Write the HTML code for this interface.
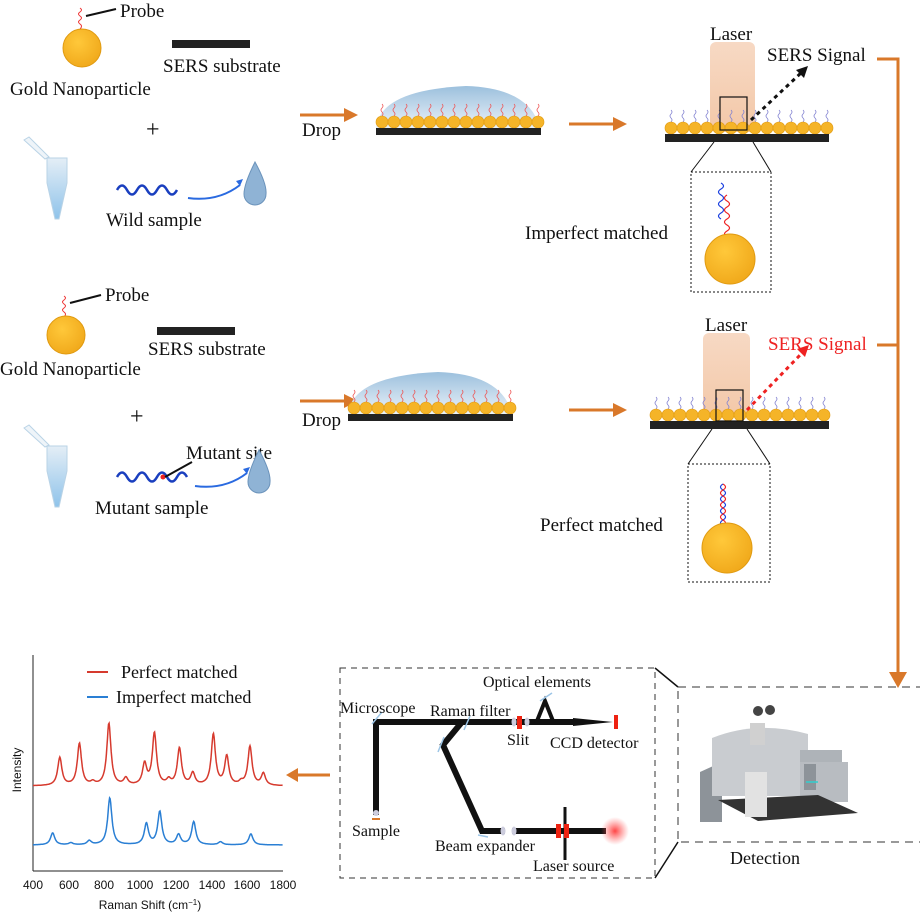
<!DOCTYPE html>
<html><head><meta charset="utf-8"><style>
html,body{margin:0;padding:0;background:#fff}
svg{display:block}
text{font-family:"Liberation Serif",serif;fill:#111}
.s{font-family:"Liberation Sans",sans-serif}
</style></head><body>
<svg width="920" height="914" viewBox="0 0 920 914" xmlns="http://www.w3.org/2000/svg">
<defs>
<radialGradient id="gold" cx="0.4" cy="0.35" r="0.7"><stop offset="0" stop-color="#ffc83a"/><stop offset="1" stop-color="#f0a81a"/></radialGradient>
<linearGradient id="laser" x1="0" y1="0" x2="0" y2="1"><stop offset="0" stop-color="#f7d9c4"/><stop offset="1" stop-color="#f3c8a8"/></linearGradient>
<linearGradient id="dome" x1="0" y1="0" x2="0" y2="1"><stop offset="0" stop-color="#9cc0dd"/><stop offset="1" stop-color="#eaf2f9"/></linearGradient>
<linearGradient id="tube" x1="0" y1="0" x2="0" y2="1"><stop offset="0" stop-color="#e4eef6"/><stop offset="1" stop-color="#8fc3ea"/></linearGradient>
<radialGradient id="glow"><stop offset="0" stop-color="#ff3030" stop-opacity="0.9"/><stop offset="1" stop-color="#ff6060" stop-opacity="0"/></radialGradient>
</defs>

<!-- ===== ROW 1 ===== -->
<path d="M80,8 q3,2 0,4 q-3,2 0,4 q3,2 0,4 q-3,2 0,4 q3,2 0,5" stroke="#e33" fill="none" stroke-width="1"/>
<line x1="86" y1="16" x2="116" y2="9" stroke="#111" stroke-width="2"/>
<text x="120" y="17" font-size="19">Probe</text>
<circle cx="82" cy="48" r="19" fill="url(#gold)" stroke="#e09a10"/>
<rect x="172" y="40" width="78" height="8" fill="#222"/>
<text x="163" y="72" font-size="19">SERS substrate</text>
<text x="10" y="95" font-size="19">Gold Nanoparticle</text>
<text x="146" y="137" font-size="24" font-family="Liberation Sans">+</text>
<g id="tube1">
<path d="M47,158 h20 v25 l-8,36 h-4 l-8,-36 z" fill="url(#tube)" stroke="#b9d3e6"/>
<path d="M24,140 l5,-3 l20,20 l-4,2 z" fill="#eef4f9" stroke="#b9d3e6"/>
</g>
<path d="M117,190 q5,-9 10,0 q5,9 10,0 q5,-9 10,0 q5,9 10,0 q5,-9 10,0 q5,9 10,0" stroke="#1a3fbf" stroke-width="2.5" fill="none"/>
<path d="M188,198 q30,4 52,-13" stroke="#2a6ae0" stroke-width="2" fill="none"/>
<path d="M236,181 l7,-2 l-3,7z" fill="#2a6ae0"/>
<path d="M255,162 q12,22 11,32 a11,11 0 0 1 -22,0 q0,-10 11,-32z" fill="#8fb3d5" stroke="#6b93bb"/>
<text x="106" y="226" font-size="19">Wild sample</text>
<line x1="300" y1="115" x2="346" y2="115" stroke="#d9782a" stroke-width="3"/><path d="M344,108 l14,7 l-14,7z" fill="#d9782a"/>
<text x="302" y="136" font-size="19">Drop</text>
<path d="M376,128 q4,-38 90,-42 q64,2 74,42z" fill="url(#dome)"/>
<g id="np1"></g>
<rect x="376" y="128" width="165" height="7" fill="#222"/>
<line x1="569" y1="124" x2="615" y2="124" stroke="#d9782a" stroke-width="3"/><path d="M613,117 l14,7 l-14,7z" fill="#d9782a"/>
<rect x="710" y="42" width="45" height="90" rx="6" fill="url(#laser)"/>
<text x="710" y="40" font-size="19">Laser</text>
<g id="np2"></g>
<rect x="665" y="134" width="164" height="8" fill="#222"/>
<rect x="720" y="97" width="27" height="33" fill="none" stroke="#111" stroke-width="1.2"/>
<line x1="751" y1="120" x2="802" y2="72" stroke="#111" stroke-width="3" stroke-dasharray="4,4"/>
<path d="M808,66 l-4,12 l-8,-8z" fill="#111"/>
<text x="767" y="61" font-size="19">SERS Signal</text>
<line x1="714" y1="142" x2="691" y2="172" stroke="#111"/><line x1="753" y1="142" x2="771" y2="172" stroke="#111"/>
<rect x="691" y="172" width="80" height="120" fill="none" stroke="#111" stroke-dasharray="2,2"/>
<path d="M721,183 q5,3 0,6 q-5,3 0,6 q5,3 0,6 q-5,3 0,6 q5,3 0,6 q-5,3 0,6" stroke="#1a3fdf" fill="none" stroke-width="1.2"/>
<path d="M727,195 q-5,3 0,6 q5,3 0,6 q-5,3 0,6 q5,3 0,6 q-5,3 0,6 q5,3 0,6 q-5,3 0,6" stroke="#e22" fill="none" stroke-width="1.2"/>
<circle cx="730" cy="259" r="25" fill="url(#gold)" stroke="#e09a10"/>
<text x="525" y="239" font-size="19">Imperfect matched</text>

<!-- orange bracket -->
<path d="M877,59 H898 V682" stroke="#d9782a" stroke-width="3" fill="none"/>
<line x1="877" y1="345" x2="898" y2="345" stroke="#d9782a" stroke-width="3"/>
<path d="M889,672 l9,16 l9,-16z" fill="#d9782a"/>

<!-- ===== ROW 2 ===== -->
<path d="M64,296 q3,2 0,4 q-3,2 0,4 q3,2 0,4 q-3,2 0,4 q3,2 0,5" stroke="#e33" fill="none" stroke-width="1"/>
<line x1="70" y1="303" x2="101" y2="295" stroke="#111" stroke-width="2"/>
<text x="105" y="301" font-size="19">Probe</text>
<circle cx="66" cy="335" r="19" fill="url(#gold)" stroke="#e09a10"/>
<rect x="157" y="327" width="78" height="8" fill="#222"/>
<text x="148" y="355" font-size="19">SERS substrate</text>
<text x="0" y="375" font-size="19">Gold Nanoparticle</text>
<text x="130" y="424" font-size="24" font-family="Liberation Sans">+</text>
<g transform="translate(0,288)">
<path d="M47,158 h20 v25 l-8,36 h-4 l-8,-36 z" fill="url(#tube)" stroke="#b9d3e6"/>
<path d="M24,140 l5,-3 l20,20 l-4,2 z" fill="#eef4f9" stroke="#b9d3e6"/>
</g>
<path d="M117,477 q5,-9 10,0 q5,9 10,0 q5,-9 10,0 q5,9 10,0 q5,-9 10,0 q5,9 10,0 q5,-9 10,0" stroke="#1a3fbf" stroke-width="2.5" fill="none"/>
<circle cx="163" cy="477" r="2.5" fill="#e22"/>
<line x1="165" y1="477" x2="192" y2="462" stroke="#111" stroke-width="2"/>
<text x="186" y="459" font-size="19">Mutant site</text>
<path d="M195,486 q30,4 52,-13" stroke="#2a6ae0" stroke-width="2" fill="none"/>
<path d="M243,469 l7,-2 l-3,7z" fill="#2a6ae0"/>
<path d="M259,450 q12,22 11,32 a11,11 0 0 1 -22,0 q0,-10 11,-32z" fill="#8fb3d5" stroke="#6b93bb"/>
<text x="95" y="514" font-size="19">Mutant sample</text>
<line x1="300" y1="401" x2="346" y2="401" stroke="#d9782a" stroke-width="3"/><path d="M344,394 l14,7 l-14,7z" fill="#d9782a"/>
<text x="302" y="426" font-size="19">Drop</text>
<path d="M348,414 q4,-38 90,-42 q64,2 74,42z" fill="url(#dome)"/>
<g id="np3"></g>
<rect x="348" y="414" width="165" height="7" fill="#222"/>
<line x1="569" y1="410" x2="615" y2="410" stroke="#d9782a" stroke-width="3"/><path d="M613,403 l14,7 l-14,7z" fill="#d9782a"/>
<rect x="703" y="333" width="47" height="84" rx="6" fill="url(#laser)"/>
<text x="705" y="331" font-size="19">Laser</text>
<g id="np4"></g>
<rect x="650" y="421" width="179" height="8" fill="#222"/>
<rect x="716" y="390" width="27" height="31" fill="none" stroke="#111" stroke-width="1.2"/>
<line x1="747" y1="410" x2="803" y2="352" stroke="#e22" stroke-width="3" stroke-dasharray="4,4"/>
<path d="M809,345 l-4,12 l-8,-8z" fill="#e22"/>
<text x="768" y="350" font-size="19" style="fill:#e22">SERS Signal</text>
<line x1="712" y1="429" x2="688" y2="464" stroke="#111"/><line x1="747" y1="429" x2="770" y2="464" stroke="#111"/>
<rect x="688" y="464" width="82" height="118" fill="none" stroke="#111" stroke-dasharray="2,2"/>
<path d="M723,484 q-5,3 0,6 q5,3 0,6 q-5,3 0,6 q5,3 0,6 q-5,3 0,6 q5,3 0,6 q-5,3 0,6 q5,3 0,6" stroke="#1a3fdf" fill="none" stroke-width="1.2"/>
<path d="M723,484 q5,3 0,6 q-5,3 0,6 q5,3 0,6 q-5,3 0,6 q5,3 0,6 q-5,3 0,6 q5,3 0,6 q-5,3 0,6" stroke="#e22" fill="none" stroke-width="1.2"/>
<circle cx="727" cy="548" r="25" fill="url(#gold)" stroke="#e09a10"/>
<text x="540" y="531" font-size="19">Perfect matched</text>

<!-- ===== Spectrum ===== -->
<line x1="33" y1="655" x2="33" y2="871" stroke="#222"/>
<line x1="33" y1="871" x2="283" y2="871" stroke="#222"/>
<text class="s" x="33" y="889" font-size="12" text-anchor="middle">400</text>
<text class="s" x="69" y="889" font-size="12" text-anchor="middle">600</text>
<text class="s" x="104" y="889" font-size="12" text-anchor="middle">800</text>
<text class="s" x="140" y="889" font-size="12" text-anchor="middle">1000</text>
<text class="s" x="176" y="889" font-size="12" text-anchor="middle">1200</text>
<text class="s" x="212" y="889" font-size="12" text-anchor="middle">1400</text>
<text class="s" x="247" y="889" font-size="12" text-anchor="middle">1600</text>
<text class="s" x="283" y="889" font-size="12" text-anchor="middle">1800</text>
<text class="s" x="150" y="909" font-size="12" text-anchor="middle">Raman Shift (cm<tspan baseline-shift="super" font-size="8">−1</tspan>)</text>
<text class="s" x="0" y="0" font-size="12" text-anchor="middle" transform="translate(21,770) rotate(-90)">Intensity</text>
<line x1="87" y1="672" x2="108" y2="672" stroke="#d63a2e" stroke-width="2"/>
<text x="121" y="678" font-size="18">Perfect matched</text>
<line x1="87" y1="697" x2="108" y2="697" stroke="#2a7fd4" stroke-width="2"/>
<text x="116" y="703" font-size="18">Imperfect matched</text>
<path id="red" fill="none" stroke="#d63a2e" stroke-width="1.5"/>
<path id="blue" fill="none" stroke="#2a7fd4" stroke-width="1.5"/>
<line x1="296" y1="775" x2="330" y2="775" stroke="#d9782a" stroke-width="3"/><path d="M298,768 l-12,7 l12,7z" fill="#d9782a"/>

<!-- ===== Raman setup box ===== -->
<rect x="340" y="668" width="315" height="210" fill="none" stroke="#333" stroke-dasharray="6,5"/>
<line x1="655" y1="668" x2="678" y2="687" stroke="#111" stroke-width="1.5"/>
<line x1="655" y1="878" x2="678" y2="842" stroke="#111" stroke-width="1.5"/>
<rect x="678" y="687" width="250" height="155" fill="none" stroke="#333" stroke-dasharray="8,6"/>
<text x="730" y="864" font-size="18">Detection</text>
<!-- instrument -->
<g>
<path d="M700,772 l22,-10 v60 h-22z" fill="#8d9399"/>
<path d="M712,738 q45,-18 96,-4 v62 h-96z" fill="#c9ccd0"/>
<path d="M800,750 h42 v16 h-42z" fill="#aeb3b8"/>
<rect x="800" y="762" width="48" height="40" fill="#b8bcc1"/>
<rect x="804" y="764" width="12" height="26" fill="#8d9399"/>
<line x1="806" y1="782" x2="818" y2="782" stroke="#2ed0d0" stroke-width="1.5"/>
<path d="M718,800 l100,-5 l40,18 l-100,8z" fill="#333"/>
<rect x="745" y="772" width="22" height="45" fill="#e2e2e2"/>
<rect x="750" y="723" width="15" height="22" fill="#d0d0d0"/>
<circle cx="758" cy="711" r="5" fill="#444"/><circle cx="770" cy="710" r="5" fill="#444"/>
</g>
<!-- beams -->
<g stroke="#111" stroke-width="6" fill="none" stroke-linejoin="miter">
<path d="M376,815 V722 H573"/>
<path d="M462,722 L443,745 L482,831 H505"/>
<path d="M512,831 H606"/>
</g>
<path d="M573,718 L613,722 L573,726z" fill="#111"/>
<rect x="614" y="715" width="4" height="14" fill="#e21"/>
<path d="M537,721 l8,-20 l8,20z" fill="none" stroke="#111" stroke-width="4"/>
<line x1="540" y1="701" x2="552" y2="693" stroke="#9cc5e6" stroke-width="1.5"/>
<rect x="517" y="716" width="5" height="13" fill="#e21"/>
<ellipse cx="514" cy="722" rx="2.5" ry="4.5" fill="#ccd"/><ellipse cx="527" cy="722" rx="2.5" ry="4.5" fill="#ccd"/>
<ellipse cx="503" cy="831" rx="2.5" ry="4.5" fill="#ccd"/><ellipse cx="514" cy="831" rx="2.5" ry="4.5" fill="#ccd"/>
<line x1="565" y1="807" x2="565" y2="860" stroke="#111" stroke-width="3"/>
<rect x="556" y="824" width="5" height="14" fill="#e21"/><rect x="564" y="824" width="5" height="14" fill="#e21"/>
<circle cx="615" cy="831" r="14" fill="url(#glow)"/>
<circle cx="376" cy="813" r="3" fill="#ccd"/>
<line x1="372" y1="819" x2="380" y2="819" stroke="#d9782a" stroke-width="2"/>
<g stroke="#9cc5e6" stroke-width="1.5">
<line x1="372" y1="724" x2="382" y2="712"/><line x1="464" y1="730" x2="470" y2="716"/><line x1="438" y1="752" x2="444" y2="737"/><line x1="478" y1="835" x2="488" y2="837"/>
</g>
<text x="483" y="687" font-size="16">Optical elements</text>
<text x="340" y="713" font-size="16">Microscope</text>
<text x="430" y="716" font-size="16">Raman filter</text>
<text x="507" y="745" font-size="16">Slit</text>
<text x="550" y="748" font-size="16">CCD detector</text>
<text x="352" y="836" font-size="16">Sample</text>
<text x="435" y="851" font-size="16">Beam expander</text>
<text x="533" y="871" font-size="16">Laser source</text>
</svg>
<script>
function np(g,x0,x1,y,probe,col){var s='',n=Math.round((x1-x0)/12);for(var i=0;i<=n;i++){var x=x0+i*12;
if(probe){s+='<path d="M'+x+','+(y-6)+' q2,-2 0,-4 q-2,-2 0,-4 q2,-2 0,-4" stroke="'+col+'" fill="none" stroke-width="0.8"/>';}
s+='<circle cx="'+x+'" cy="'+y+'" r="6" fill="#f5b428" stroke="#e09a10" stroke-width="0.6"/>';}
document.getElementById(g).innerHTML=s;}
np('np1',382,535,122,1,'#e55');np('np3',354,507,408,1,'#e55');
np('np2',671,823,128,1,'#8080d0');np('np4',656,823,415,1,'#8080d0');
function lor(v,c,w){return 1/(1+Math.pow((v-c)/w,2));}
function sp(id,base,pk){var d='';for(var v=400;v<=1800;v+=3){var y=base;pk.forEach(function(p){y-=p[1]*lor(v,p[0],14);});
var x=33+(v-400)*250/1400;d+=(v==400?'M':'L')+x.toFixed(1)+','+y.toFixed(1);}document.getElementById(id).setAttribute('d',d);}
sp('red',786,[[550,28],[660,42],[735,3],[825,62],[920,7],[1025,21],[1080,52],[1160,5],[1220,37],[1295,12],[1410,51],[1485,29],[1565,3],[1615,39],[1690,12]]);
sp('blue',845,[[510,12],[612,2],[715,4],[830,47],[1035,21],[1110,33],[1215,10],[1300,23],[1450,3],[1620,11]]);
</script>
</body></html>
